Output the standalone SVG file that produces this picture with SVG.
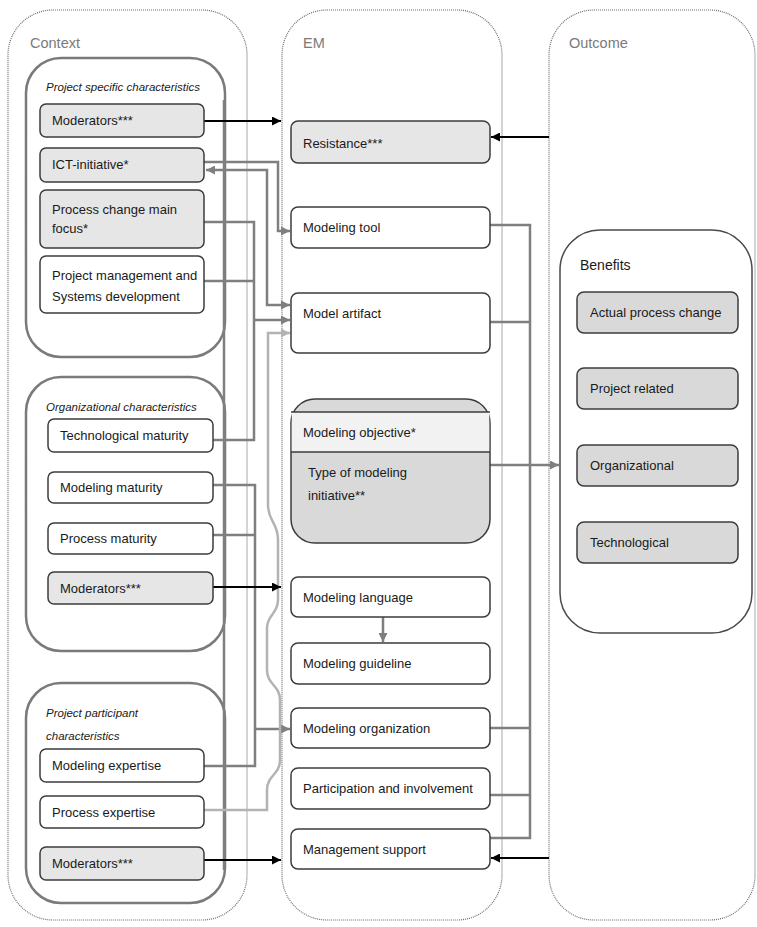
<svg xmlns="http://www.w3.org/2000/svg" width="757" height="927" viewBox="0 0 757 927">
<style>
  text { font-family: "Liberation Sans", Arial, sans-serif; font-size: 13px; fill: #1a1a1a; }
  .hdr { font-size: 14.5px; fill: #7a7a7a; }
  .ttl { font-style: italic; font-size: 11.5px; }
  .cont { fill: #ffffff; stroke: #6e6e6e; stroke-width: 1.2; stroke-dasharray: 1 1; }
  .grp { fill: #ffffff; stroke: #7a7a7a; stroke-width: 2.5; }
  .node { fill: #ffffff; stroke: #3c3c3c; stroke-width: 1.5; }
  .nodeg { fill: #e6e6e6; stroke: #3c3c3c; stroke-width: 1.5; }
  .nodeb { fill: #d9d9d9; stroke: #3c3c3c; stroke-width: 1.5; }
  .cg { fill: none; stroke: #7f7f7f; stroke-width: 2.5; }
  .cl { fill: none; stroke: #b3b3b3; stroke-width: 2.5; }
  .cb { fill: none; stroke: #000000; stroke-width: 2; }
</style>
<defs>
  <marker id="ag" viewBox="0 0 10 10" refX="10" refY="5" markerWidth="9" markerHeight="9" markerUnits="userSpaceOnUse" orient="auto-start-reverse"><path d="M0,0 L10,5 L0,10 z" fill="#7f7f7f"/></marker>
  <marker id="al" viewBox="0 0 10 10" refX="10" refY="5" markerWidth="9" markerHeight="9" markerUnits="userSpaceOnUse" orient="auto-start-reverse"><path d="M0,0 L10,5 L0,10 z" fill="#b3b3b3"/></marker>
  <marker id="ab" viewBox="0 0 10 10" refX="10" refY="5" markerWidth="9" markerHeight="9" markerUnits="userSpaceOnUse" orient="auto-start-reverse"><path d="M0,0 L10,5 L0,10 z" fill="#000000"/></marker>
</defs>
<rect width="757" height="927" fill="#ffffff"/>

<g id="context">
  <rect class="cont" x="8" y="10" width="239" height="910" rx="45"/>
  <text class="hdr" x="30" y="48">Context</text>
</g>
<g id="em">
  <rect class="cont" x="282" y="10" width="220" height="910" rx="45"/>
  <text class="hdr" x="303" y="48">EM</text>
</g>
<g id="outcome">
  <rect class="cont" x="549" y="10" width="206" height="910" rx="45"/>
  <text class="hdr" x="569" y="48">Outcome</text>
</g>

<g id="project-specific">
  <rect class="grp" x="26" y="58" width="199" height="299" rx="35"/>
  <text class="ttl" x="46" y="91">Project specific characteristics</text>
</g>
<g id="organizational">
  <rect class="grp" x="26" y="377" width="199" height="274" rx="35"/>
  <text class="ttl" x="46" y="411">Organizational characteristics</text>
</g>
<g id="project-participant">
  <rect class="grp" x="26" y="683" width="199" height="220" rx="35"/>
  <text class="ttl" x="46" y="717">Project participant</text>
  <text class="ttl" x="46" y="740">characteristics</text>
</g>

<g id="connectors">
  <path class="cg" d="M224,100 V870"/>
  <path class="cg" d="M204,162 H278 V231 H290" marker-end="url(#ag)"/>
  <path class="cg" d="M206,170 H267 V305 H290" marker-start="url(#ag)" marker-end="url(#ag)"/>
  <path class="cg" d="M204,222 H254 V440 H213"/>
  <path class="cg" d="M204,281 H254"/>
  <path class="cg" d="M254,320 H290" marker-end="url(#ag)"/>
  <path class="cg" d="M213,485 H255 V766 H204"/>
  <path class="cg" d="M213,535 H255"/>
  <path class="cg" d="M255,729 H290" marker-end="url(#ag)"/>
  <path class="cl" d="M204,810 H267 V790 C267,775 280,775 280,760 V700 C280,685 267,685 267,670 V628 C267,615 278,614 278,600 V540 C278,522 268,522 268,505 V333 H290" marker-end="url(#al)"/>
  <path class="cg" d="M490,225 H530 V838 H490"/>
  <path class="cg" d="M490,322 H530"/>
  <path class="cg" d="M490,728 H530"/>
  <path class="cg" d="M490,795 H530"/>
  <path class="cg" d="M490,465 H559" marker-end="url(#ag)"/>
  <path class="cg" d="M383,617 V642" marker-end="url(#ag)"/>
  <path class="cb" d="M204,121 H281" marker-end="url(#ab)"/>
  <path class="cb" d="M549,137 H491" marker-end="url(#ab)"/>
  <path class="cb" d="M213,587 H281" marker-end="url(#ab)"/>
  <path class="cb" d="M204,860 H281" marker-end="url(#ab)"/>
  <path class="cb" d="M549,858 H491" marker-end="url(#ab)"/>
</g>

<g id="ps-moderators"><rect class="nodeg" x="40" y="104" width="164" height="33" rx="6"/><text x="52" y="125">Moderators***</text></g>
<g id="ict-initiative"><rect class="nodeg" x="40" y="148" width="164" height="34" rx="6"/><text x="52" y="169">ICT-initiative*</text></g>
<g id="process-change"><rect class="nodeg" x="40" y="190" width="164" height="58" rx="6"/><text x="52" y="214">Process change main</text><text x="52" y="233">focus*</text></g>
<g id="project-management"><rect class="node" x="40" y="256" width="164" height="57" rx="6"/><text x="52" y="280">Project management and</text><text x="52" y="301">Systems development</text></g>

<g id="technological-maturity"><rect class="node" x="48" y="419" width="165" height="33" rx="6"/><text x="60" y="440">Technological maturity</text></g>
<g id="modeling-maturity"><rect class="node" x="48" y="472" width="165" height="31" rx="6"/><text x="60" y="492">Modeling maturity</text></g>
<g id="process-maturity"><rect class="node" x="48" y="523" width="165" height="31" rx="6"/><text x="60" y="543">Process maturity</text></g>
<g id="org-moderators"><rect class="nodeg" x="48" y="572" width="165" height="32" rx="6"/><text x="60" y="593">Moderators***</text></g>

<g id="modeling-expertise"><rect class="node" x="40" y="749" width="164" height="33" rx="6"/><text x="52" y="770">Modeling expertise</text></g>
<g id="process-expertise"><rect class="node" x="40" y="796" width="164" height="32" rx="6"/><text x="52" y="817">Process expertise</text></g>
<g id="pp-moderators"><rect class="nodeg" x="40" y="847" width="164" height="33" rx="6"/><text x="52" y="868">Moderators***</text></g>

<g id="resistance"><rect class="nodeg" x="291" y="121" width="199" height="42" rx="7"/><text x="303" y="148">Resistance***</text></g>
<g id="modeling-tool"><rect class="node" x="291" y="207" width="199" height="41" rx="7"/><text x="303" y="232">Modeling tool</text></g>
<g id="model-artifact"><rect class="node" x="291" y="293" width="199" height="60" rx="7"/><text x="303" y="318">Model artifact</text></g>
<g id="modeling-objective">
  <rect class="nodeb" x="291" y="399" width="199" height="144" rx="24"/>
  <rect x="291.75" y="412" width="197.5" height="40" fill="#f2f2f2"/>
  <path d="M291,412 H490 M291,452 H490" stroke="#3c3c3c" stroke-width="1.5"/>
  <text x="303" y="437">Modeling objective*</text>
  <text x="308" y="477">Type of modeling</text>
  <text x="308" y="500">initiative**</text>
</g>
<g id="modeling-language"><rect class="node" x="291" y="577" width="199" height="40" rx="7"/><text x="303" y="602">Modeling language</text></g>
<g id="modeling-guideline"><rect class="node" x="291" y="643" width="199" height="41" rx="7"/><text x="303" y="668">Modeling guideline</text></g>
<g id="modeling-organization"><rect class="node" x="291" y="708" width="199" height="40" rx="7"/><text x="303" y="733">Modeling organization</text></g>
<g id="participation"><rect class="node" x="291" y="768" width="199" height="41" rx="7"/><text x="303" y="793">Participation and involvement</text></g>
<g id="management-support"><rect class="node" x="291" y="829" width="199" height="40" rx="7"/><text x="303" y="854">Management support</text></g>

<g id="benefits">
  <rect x="560" y="230" width="192" height="403" rx="40" fill="#ffffff" stroke="#4a4a4a" stroke-width="1.5"/>
  <text x="580" y="270" style="font-size:14px">Benefits</text>
</g>
<g id="actual-process-change"><rect class="nodeb" x="577" y="292" width="161" height="41" rx="7"/><text x="590" y="317">Actual process change</text></g>
<g id="project-related"><rect class="nodeb" x="577" y="368" width="161" height="41" rx="7"/><text x="590" y="393">Project related</text></g>
<g id="organizational-benefit"><rect class="nodeb" x="577" y="445" width="161" height="41" rx="7"/><text x="590" y="470">Organizational</text></g>
<g id="technological-benefit"><rect class="nodeb" x="577" y="522" width="161" height="41" rx="7"/><text x="590" y="547">Technological</text></g>
</svg>
